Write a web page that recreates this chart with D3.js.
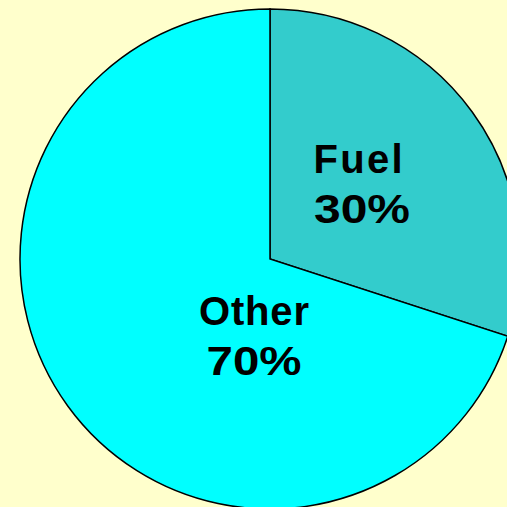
<!DOCTYPE html>
<html>
<head>
<meta charset="utf-8">
<script src="https://cdn.jsdelivr.net/npm/d3@7"></script>
<style>
  html, body { margin: 0; padding: 0; background: #ffffcc; overflow: hidden; }
  text { font-family: 'Liberation Sans', Arial, sans-serif; font-weight: bold; }
</style>
</head>
<body>
<div class="chart"></div>
<script>
const categories = ['Fuel', 'Other'];
const shares = [30, 70];
const colors = ['#33cccc', '#00ffff'];

const w = 507;
const h = 507;
const cx = 270;
const cy = 259;
const radius = 250;

const svg = d3
  .select('.chart')
  .append('svg')
  .attr('width', w)
  .attr('height', h);

svg.append('rect').attr('width', w).attr('height', h).attr('fill', '#ffffcc');

const g = svg.append('g').attr('transform', `translate(${cx}, ${cy})`);

const pie = d3.pie().sort(null).value((d) => d);
const arc = d3.arc().innerRadius(0).outerRadius(radius);
const arcs = pie(shares);

g.selectAll('path')
  .data(arcs)
  .enter()
  .append('path')
  .attr('d', arc)
  .attr('fill', (d, i) => colors[i])
  .attr('stroke', '#000')
  .attr('stroke-width', 1.5);

// label spots (relative to the centre) and stretched widths
const labelPos = [
  [88, -74],
  [-16, 78]
];
const nameWidth = [89, 110];
const pctWidth = [96, 95];

const labels = g
  .selectAll('.label')
  .data(arcs)
  .enter()
  .append('text')
  .attr('class', 'label')
  .attr('font-size', 40)
  .attr('transform', (d, i) => `translate(${labelPos[i][0]}, ${labelPos[i][1]})`);

labels
  .append('tspan')
  .attr('x', (d, i) => -nameWidth[i] / 2)
  .attr('y', -12)
  .attr('textLength', (d, i) => nameWidth[i])
  .attr('lengthAdjust', 'spacing')
  .text((d, i) => categories[i]);

labels
  .append('tspan')
  .attr('x', (d, i) => -pctWidth[i] / 2 + (i === 0 ? 4 : 0))
  .attr('y', 38)
  .attr('textLength', (d, i) => pctWidth[i])
  .attr('lengthAdjust', 'spacingAndGlyphs')
  .text((d, i) => `${shares[i]}%`);
</script>
</body>
</html>
